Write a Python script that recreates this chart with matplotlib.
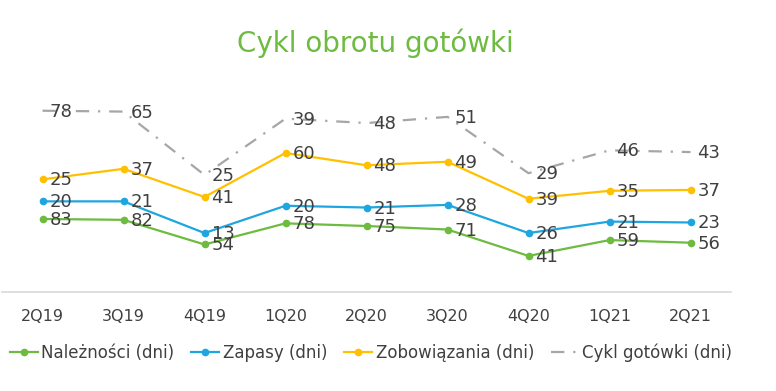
import matplotlib
matplotlib.use("Agg")
import matplotlib.pyplot as plt
import numpy as np

# dane (dni) - wykres skumulowany jak w Excelu
kwartaly = ["2Q19", "3Q19", "4Q19", "1Q20", "2Q20", "3Q20", "4Q20", "1Q21", "2Q21"]
naleznosci = [83, 82, 54, 78, 75, 71, 41, 59, 56]
zapasy = [20, 21, 13, 20, 21, 28, 26, 21, 23]
zobowiazania = [25, 37, 41, 60, 48, 49, 39, 35, 37]
cykl = [78, 65, 25, 39, 48, 51, 29, 46, 43]

nazwy = ["Należności (dni)", "Zapasy (dni)", "Zobowiązania (dni)", "Cykl gotówki (dni)"]
kolory = ["#6DBB3F", "#1EA6E0", "#FFC000", "#A6A6A6"]
txt = "#404040"

fig = plt.figure(figsize=(7.76, 3.91), dpi=100)
H = 391.0
ax = fig.add_axes([2 / 776, 1 - 292 / H, 729 / 776, 220 / H])

x = np.arange(len(kwartaly))
serie = [naleznosci, zapasy, zobowiazania, cykl]
skum = np.cumsum(np.array(serie, dtype=float), axis=0)

for i, (vals, top) in enumerate(zip(serie, skum)):
    if i < 3:
        ax.plot(x, top, color=kolory[i], lw=1.6, marker="o", ms=4.5,
                label=nazwy[i], solid_joinstyle="round")
    else:
        ax.plot(x, top, color=kolory[i], lw=1.6, ls=(0, (6, 4, 1, 4)),
                label=nazwy[i])
    for xi, yi, v in zip(x, top, vals):
        ax.annotate(str(v), (xi, yi), xytext=(7, -1), textcoords="offset pixels",
                    ha="left", va="center", fontsize=13, color=txt)

ax.set_xlim(-0.5, len(kwartaly) - 0.5)
ax.set_ylim(0, 250)
ax.set_xticks(x)
ax.set_xticklabels(kwartaly, fontsize=11.5, color=txt)
ax.tick_params(axis="x", length=0, pad=12)
ax.set_yticks([])
for s in ["top", "right", "left"]:
    ax.spines[s].set_visible(False)
ax.spines["bottom"].set_color("#D9D9D9")
ax.spines["bottom"].set_linewidth(1.2)
ax.patch.set_alpha(0)

fig.text(375 / 776, 1 - 43 / H, "Cykl obrotu gotówki", ha="center", va="center",
         fontsize=20, color="#6DBB3F")

h, l = ax.get_legend_handles_labels()
leg = fig.legend(h, l, loc="center", bbox_to_anchor=(371 / 776, 1 - 353 / H), ncol=4,
                 frameon=False, fontsize=12, handlelength=1.7, handletextpad=0.2,
                 columnspacing=1.0, borderpad=0)
for t in leg.get_texts():
    t.set_color(txt)

fig.savefig("out.png", dpi=100)
